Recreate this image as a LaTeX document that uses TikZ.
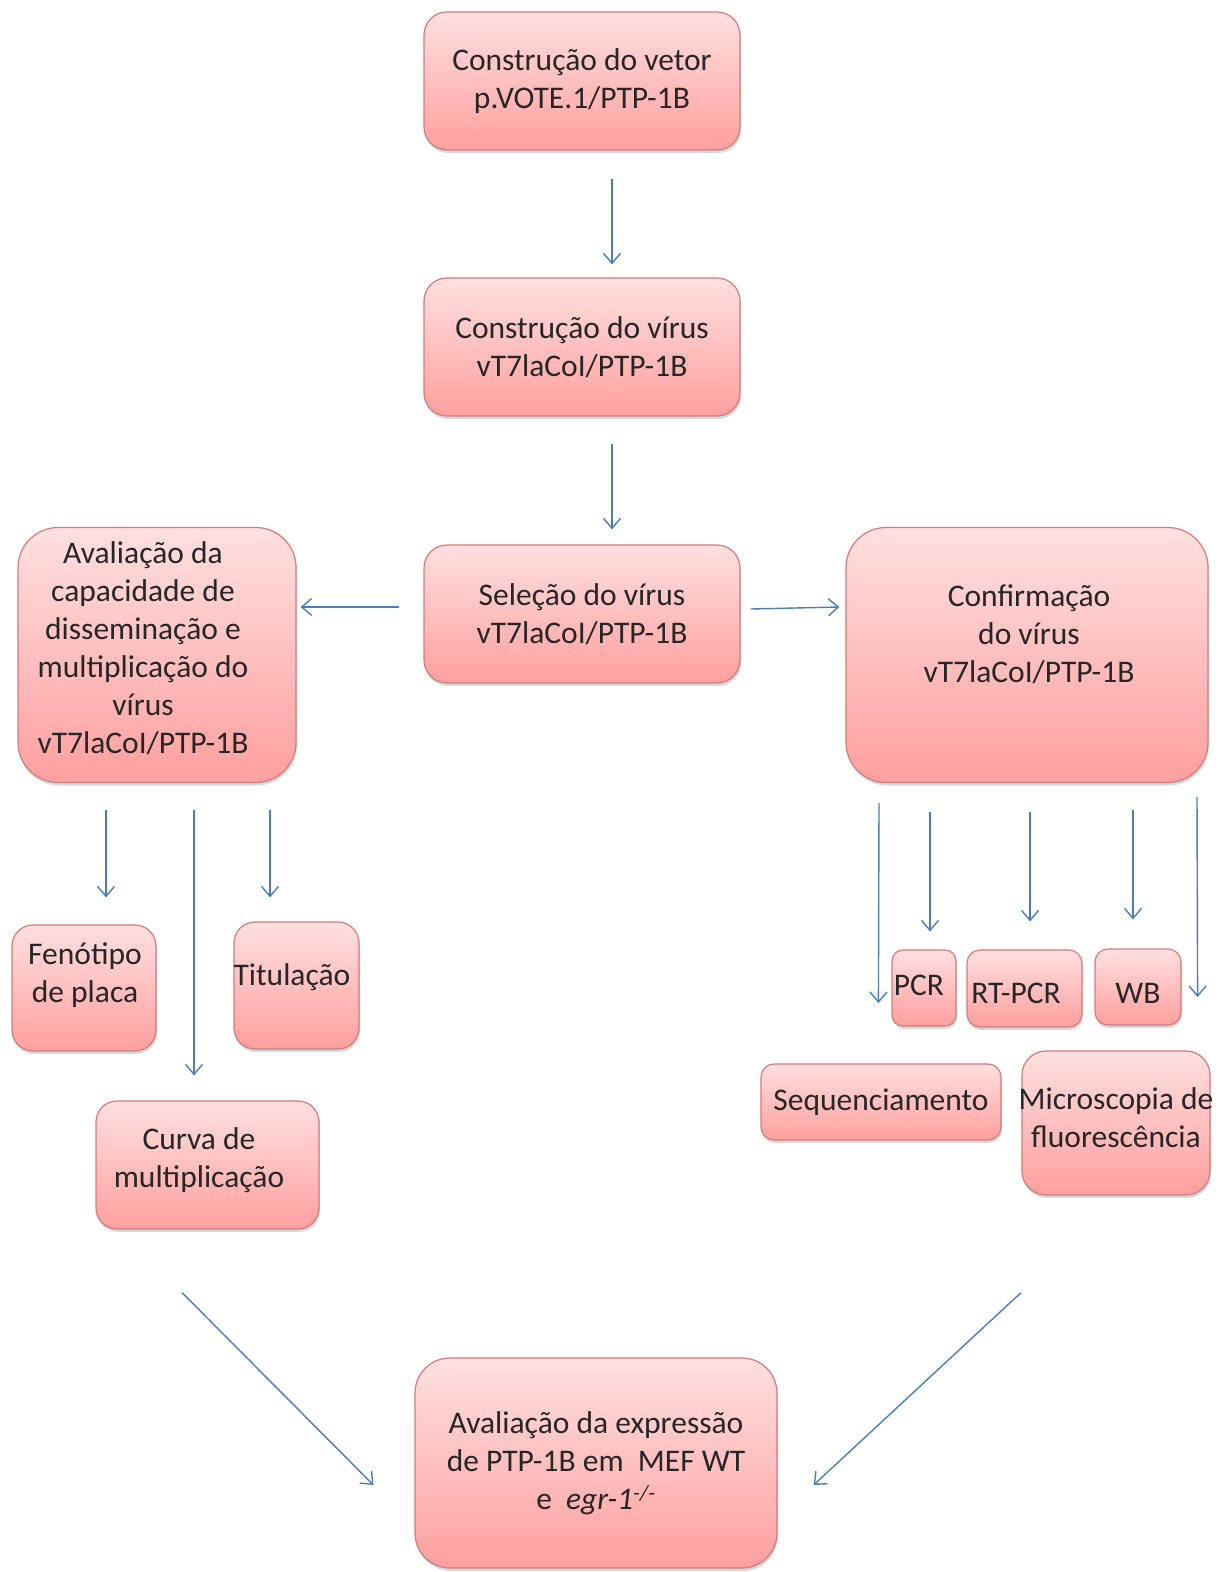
\documentclass[tikz,border=0pt]{standalone}
\usepackage{fontspec}
\setmainfont{Carlito}
\usetikzlibrary{arrows.meta,shadows}
\definecolor{bxTop}{HTML}{FFE0E0}
\definecolor{bxBot}{HTML}{FF9F9F}
\definecolor{bxLine}{HTML}{D9787A}
\definecolor{arBlue}{HTML}{4A7EBB}
\definecolor{txDark}{HTML}{262626}

\begin{document}
\begin{tikzpicture}[x=1pt,y=-1pt,font=\fontsize{31.5}{38}\selectfont,text=txDark,
  box/.style={draw=bxLine,line width=1.2pt,top color=bxTop,bottom color=bxBot,
    rounded corners=#1,align=center,inner sep=1pt,
    drop shadow={shadow xshift=1pt,shadow yshift=-3pt,opacity=0.3}},
  box/.default=20pt,
  lbl/.style={align=center,inner sep=0pt},
  arr/.style={arBlue,line width=1.4pt,-{Straight Barb[length=10pt,width=17pt]}}]
  \useasboundingbox (0,0) rectangle (1230,1572);
  % coluna central
  \node[box=23pt,minimum width=316pt,minimum height=138pt] (vetor) at (582,81) {Construção do vetor\\p.VOTE.1/PTP-1B};
  \node[box=23pt,minimum width=316pt,minimum height=138pt] (virus) at (582,347) {Construção do vírus\\vT7laCoI/PTP-1B};
  \node[box=23pt,minimum width=316pt,minimum height=138pt] (selecao) at (582,614) {Seleção do vírus\\vT7laCoI/PTP-1B};
  % ramo esquerdo
  \node[box=40pt,minimum width=278pt,minimum height=255pt] (aval) at (157,655) {};
  \node[lbl] (avaltxt) at (143,648) {Avaliação da\\capacidade de\\disseminação e\\multiplicação do\\vírus\\vT7laCoI/PTP-1B};
  \node[box=21pt,minimum width=144pt,minimum height=126pt] (fenotipo) at (84,988) {};
  \node[lbl] (fenotipotxt) at (85,975) {Fenótipo\\de placa};
  \node[box=21pt,minimum width=125pt,minimum height=127pt] (titulacao) at (296.5,985.5) {};
  \node[lbl] (titulacaotxt) at (292,977) {Titulação};
  \node[box=21pt,minimum width=223pt,minimum height=128pt] (curva) at (207.5,1165) {};
  \node[lbl] (curvatxt) at (199,1160) {Curva de\\multiplicação};
  % ramo direito
  \node[box=40pt,minimum width=362pt,minimum height=255pt] (confirm) at (1027,655) {};
  \node[lbl] (confirmtxt) at (1029,634) {Confirmação\\do vírus\\vT7laCoI/PTP-1B};
  \node[box=11pt,minimum width=64pt,minimum height=76pt,inner sep=0pt] (pcr) at (924,988) {};
  \node[lbl] (pcrtxt) at (919,985) {PCR};
  \node[box=13pt,minimum width=115pt,minimum height=77pt] (rtpcr) at (1024.5,988.5) {};
  \node[lbl] (rtpcrtxt) at (1016,993) {RT-PCR};
  \node[box=13pt,minimum width=86pt,minimum height=76pt] (wb) at (1138,987) {};
  \node[lbl] (wbtxt) at (1138,993) {WB};
  \node[box=13pt,minimum width=240pt,minimum height=76pt] (sequenc) at (881,1102) {Sequenciamento};
  \node[box=24pt,minimum width=188pt,minimum height=144pt,inner sep=0pt] (microsc) at (1116,1123) {};
  \node[lbl] (microsctxt) at (1116,1118) {Microscopia de\\fluorescência};
  % resultado
  \node[box=35pt,minimum width=362pt,minimum height=210pt] (expressao) at (596,1463) {Avaliação da expressão\\de PTP-1B em\ \ MEF WT\\e\ \ \textit{egr-1\textsuperscript{-/-}}};
  % setas
  \draw[arr] ([xshift=30pt,yshift=-28pt]vetor.south) -- ([xshift=30pt,yshift=13pt]virus.north);
  \draw[arr] ([xshift=30pt,yshift=-27pt]virus.south) -- ([xshift=30pt,yshift=15pt]selecao.north);
  \draw[arr] ([xshift=-24pt,yshift=7pt]selecao.west) -- ([xshift=4pt,yshift=48pt]aval.east);
  \draw[arr] ([xshift=10pt,yshift=5pt]selecao.east) -- ([xshift=-6pt,yshift=48pt]confirm.west);
  \draw[arr] ([xshift=-51pt,yshift=-27pt]aval.south) -- ([xshift=22pt,yshift=27pt]fenotipo.north);
  \draw[arr] ([xshift=37pt,yshift=-27pt]aval.south) -- ([xshift=-13.5pt,yshift=25pt]curva.north);
  \draw[arr] ([xshift=113pt,yshift=-27pt]aval.south) -- ([xshift=-26.5pt,yshift=24pt]titulacao.north);
  \draw[arr] ([xshift=-148pt,yshift=-20pt]confirm.south) -- ([xshift=-13pt,yshift=-15pt]pcr.west);
  \draw[arr] ([xshift=-97pt,yshift=-29pt]confirm.south) -- ([xshift=6pt,yshift=18pt]pcr.north);
  \draw[arr] ([xshift=3pt,yshift=-29pt]confirm.south) -- ([xshift=5.5pt,yshift=28pt]rtpcr.north);
  \draw[arr] ([xshift=106pt,yshift=-27pt]confirm.south) -- ([xshift=-5pt,yshift=29pt]wb.north);
  \draw[arr] ([xshift=170pt,yshift=-14pt]confirm.south) -- ([xshift=16pt,yshift=-10pt]wb.east);
  \draw[arr] ([xshift=-25.5pt,yshift=-63pt]curva.south) -- ([xshift=-41pt,yshift=-22pt]expressao.west);
  \draw[arr] ([xshift=-95pt,yshift=-97pt]microsc.south) -- ([xshift=36pt,yshift=-22pt]expressao.east);
\end{tikzpicture}
\end{document}
